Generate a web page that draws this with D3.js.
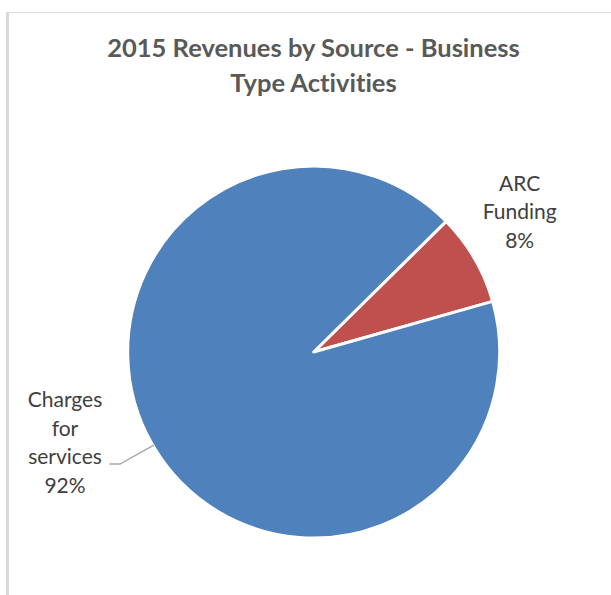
<!DOCTYPE html>
<html>
<head>
<meta charset="utf-8">
<script src="https://cdn.jsdelivr.net/npm/d3@7"></script>
<style>
  html, body { margin: 0; padding: 0; background: #ffffff; }
  svg { display: block; }
  text { font-variant-ligatures: none; }
</style>
</head>
<body>
<svg id="chart" width="611" height="595"></svg>
<script>
// Revenue sources and their shares (percent)
const categories = ["ARC Funding", "Charges for services"];
const shares = [8, 92];
const labelLines = [["ARC", "Funding", "8%"], ["Charges", "for", "services", "92%"]];
const colors = ["#c0504d", "#4f81bd"];
const titleLines = ["2015 Revenues by Source - Business", "Type Activities"];

const width = 611, height = 595;
const cx = 313.7, cy = 352, radius = 186;
const rotation = 45.4 * Math.PI / 180;

const svg = d3.select("#chart");

// chart area frame
svg.append("line").attr("x1", 8).attr("x2", width).attr("y1", 12.5).attr("y2", 12.5)
  .attr("stroke", "#d9d9d9").attr("stroke-width", 1);
svg.append("line").attr("x1", 7.5).attr("x2", 7.5).attr("y1", 12).attr("y2", height)
  .attr("stroke", "#d9d9d9").attr("stroke-width", 3);

// title
svg.append("text")
  .attr("text-anchor", "middle")
  .attr("font-family", "Lato, 'Open Sans', sans-serif")
  .attr("font-weight", "bold")
  .attr("font-size", 25.5)
  .attr("fill", "#595959")
  .selectAll("tspan").data(titleLines).join("tspan")
  .attr("x", 313.5)
  .attr("y", (d, i) => 57.3 + i * 34.4)
  .text(d => d);

const pie = d3.pie().sort(null).value(d => d)
  .startAngle(rotation).endAngle(rotation + 2 * Math.PI);
const arcs = pie(shares);
const arc = d3.arc().innerRadius(0).outerRadius(radius);

const g = svg.append("g").attr("transform", `translate(${cx},${cy})`);
g.selectAll("path").data(arcs).join("path")
  .attr("d", arc)
  .attr("fill", (d, i) => colors[i])
  .attr("stroke", "#ffffff")
  .attr("stroke-width", 3)
  .attr("stroke-linejoin", "round");

// leader line for the services label, attached to the rim of its slice
const angleAt = 4.185;
const px = Math.sin(angleAt) * (radius - 1), py = -Math.cos(angleAt) * (radius - 1);
svg.append("polyline")
  .attr("points", [[109.3, 464], [120, 464], [cx + px, cy + py]].map(p => p.join(",")).join(" "))
  .attr("fill", "none").attr("stroke", "#a6a6a6").attr("stroke-width", 1.3);

// data labels
const labelPos = [[519.7, 190.7], [65, 407]];
labelLines.forEach((lines, i) => {
  svg.append("text")
    .attr("text-anchor", "middle")
    .attr("font-family", "Lato, 'Open Sans', sans-serif")
    .attr("font-size", 21)
    .attr("fill", "#404040")
    .selectAll("tspan").data(lines).join("tspan")
    .attr("x", labelPos[i][0])
    .attr("y", (d, j) => labelPos[i][1] + j * 28.5)
    .text(d => d);
});
</script>
</body>
</html>
